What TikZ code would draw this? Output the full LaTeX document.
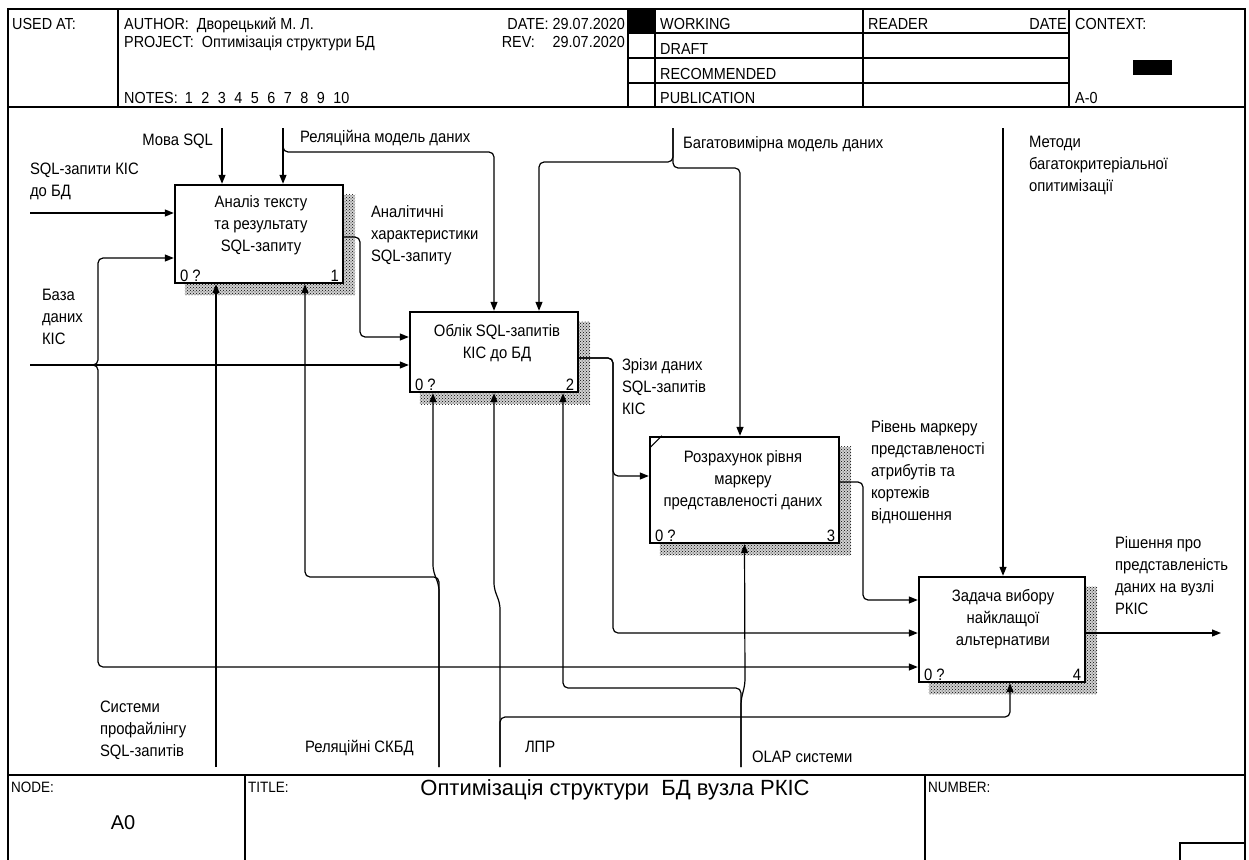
\documentclass[tikz,border=0pt]{standalone}
\usepackage{fontspec}
\setmainfont{Liberation Sans}[FakeStretch=0.9]
\newfontfamily\titlefamily{Liberation Sans}
\usetikzlibrary{arrows.meta,calc,patterns,backgrounds}
\newcommand{\lblfont}{\fontsize{16.5}{22}\selectfont}
\newcommand{\hdrfont}{\fontsize{16}{18}\selectfont}
\newcommand{\ftrfont}{\fontsize{15}{17}\selectfont}
\begin{document}
\begin{tikzpicture}[x=1pt,y=-1pt,
  frame/.style={line width=1.3pt},
  procbox/.style={draw,line width=2.4pt,fill=white,inner sep=0pt},
  boxshadow/.style={pattern=crosshatch dots,pattern color=black},
  arr/.style={line width=1.2pt,rounded corners=5pt,-{Triangle[length=9pt,width=7pt]}},
  lbl/.style={font=\lblfont,align=left,inner sep=0pt,outer sep=0pt,anchor=north west},
  boxtext/.style={font=\lblfont,align=center,inner sep=0pt},
  tag/.style={font=\lblfont,inner sep=0pt},
  hdr/.style={font=\hdrfont,inner sep=0pt,anchor=base west},
  ftr/.style={font=\ftrfont,inner sep=0pt,anchor=base west},
]
\useasboundingbox (0,0) rectangle (1249,859);

% ---------- frame, header and footer ----------
\draw[frame] (8,9) rectangle (1245,875);
\draw[frame] (8,107) -- (1245,107);
\foreach \xx in {118,628,655,863,1069} \draw[frame] (\xx,9) -- (\xx,107);
\foreach \yy in {33,58,83} \draw[frame] (628,\yy) -- (1069,\yy);
\fill (628,9) rectangle (655,33);
\fill (1133,60) rectangle (1172,75);

\node[hdr] (usedat) at (12,30) {USED AT:};
\node[hdr] (author) at (124,30) {AUTHOR:\ \ Дворецький М. Л.};
\node[hdr] (project) at (124,48) {PROJECT:\ \ Оптимізація структури БД};
\node[hdr] (notes) at (124,103) {NOTES:\hspace{7pt}1\hspace{8.5pt}2\hspace{8.5pt}3\hspace{8.5pt}4\hspace{8.5pt}5\hspace{8.5pt}6\hspace{8.5pt}7\hspace{8.5pt}8\hspace{8.5pt}9\hspace{8.5pt}10};
\node[hdr,anchor=base east] (date) at (625,30) {DATE: 29.07.2020};
\node[hdr,anchor=base east] (rev) at (625,48) {\makebox[123pt][l]{REV:\hfill 29.07.2020}};
\node[hdr] (working) at (660,30) {WORKING};
\node[hdr] (draft) at (660,55) {DRAFT};
\node[hdr] (recom) at (660,79) {RECOMMENDED};
\node[hdr] (publ) at (660,103) {PUBLICATION};
\node[hdr] (reader) at (868,30) {READER};
\node[hdr,anchor=base east] (rdate) at (1067,30) {DATE};
\node[hdr] (context) at (1075,30) {CONTEXT:};
\node[hdr] (ctxnode) at (1075,103) {A-0};

\draw[frame] (8,775) -- (1245,775);
\draw[frame] (245,775) -- (245,875);
\draw[frame] (925,775) -- (925,875);
\draw[frame] (1180,875) -- (1180,843) -- (1245,843);
\node[ftr] (nodelbl) at (11,792) {NODE:};
\node[ftr] (titlelbl) at (248,792) {TITLE:};
\node[ftr] (numlbl) at (928,792) {NUMBER:};
\node[font=\titlefamily\fontsize{22}{26}\selectfont,inner sep=0pt] (title) at (615,790) {Оптимізація структури\ \ БД вузла РКІС};
\node[font=\titlefamily\fontsize{20}{24}\selectfont,inner sep=0pt] (nodeid) at (123,823) {A0};

% ---------- activity boxes ----------
\node[procbox,minimum width=168pt,minimum height=98pt] (b1) at (259,234) {};
\node[procbox,minimum width=168pt,minimum height=80pt] (b2) at (494,352) {};
\node[procbox,minimum width=189pt,minimum height=106pt] (b3) at (744.5,490) {};
\node[procbox,minimum width=166pt,minimum height=105pt] (b4) at (1002,629.5) {};

\begin{scope}[on background layer]
  \foreach \b in {b1,b2,b3,b4}{
    \fill[black!18] ($(\b.south west)+(11,11)$) rectangle ($(\b.north east)+(11,11)$);
    \fill[boxshadow] ($(\b.south west)+(11,11)$) rectangle ($(\b.north east)+(11,11)$);
  }
\end{scope}

\draw[line width=1.2pt] ($(b3.north west)+(1,12)$) -- ($(b3.north west)+(13,0)$);

\node[boxtext] (t1) at (261,225) {Аналіз тексту\\та результату\\SQL-запиту};
\node[boxtext] (t2) at (497,343) {Облік SQL-запитів\\КІС до БД};
\node[boxtext] (t3) at (743,480) {Розрахунок рівня\\маркеру\\представленості даних};
\node[boxtext] (t4) at (1003,619) {Задача вибору\\найклащої\\альтернативи};

\foreach \b/\n in {b1/1,b2/2,b3/3,b4/4}{
  \node[tag,anchor=base west] (\b q) at ($(\b.south west)+(6,-3)$) {0 ?};
  \node[tag,anchor=base east] (\b n) at ($(\b.south east)+(-5,-3)$) {\n};
}

% ---------- free ends of boundary arrows ----------
\coordinate (mova) at (222,128);
\coordinate (relm) at (283,128);
\coordinate (multi) at (673,128);
\coordinate (meth) at (1003,128);
\coordinate (sqlin) at (30,213);
\coordinate (db) at (30,365);
\coordinate (out) at (1221,633);
\coordinate (prof) at (216,767);
\coordinate (rdb) at (439,767);
\coordinate (lpr) at (500,767);
\coordinate (olap) at (741,767);

% ---------- controls ----------
\draw[arr] (mova) -- (mova |- b1.north);
\draw[arr] (relm) -- (relm |- b1.north);
\draw[arr] (relm) -- (283,152) -| (b2.north);
\draw[arr] (multi) -- (673,162) -| ($(b2.north)+(45,0)$);
\draw[arr] (multi) -- (673,168) -| ($(b3.north)+(-4.5,0)$);
\draw[arr] (meth) -- (meth |- b4.north);

% ---------- inputs ----------
\draw[arr] (sqlin) -- (sqlin -| b1.west);
\draw[arr] (db) -- (db -| b2.west);
\draw[arr] (db) -- (98,365) |- ($(b1.west)+(0,24)$);
\draw[arr] (db) -- (98,365) |- ($(b4.west)+(0,37.5)$);

% ---------- outputs ----------
\draw[arr] ($(b1.east)+(0,3)$) -- (360,237) |- ($(b2.west)+(0,-15)$);
\draw[arr] ($(b2.east)+(0,6)$) -- (613,358) |- ($(b3.west)+(0,-14)$);
\draw[arr] ($(b2.east)+(0,6)$) -- (613,358) |- ($(b4.west)+(0,3.5)$);
\draw[arr] ($(b3.east)+(0,-8)$) -- (863,482) |- ($(b4.west)+(0,-29.5)$);
\draw[arr] ($(b4.east)+(0,3.5)$) -- (out);

% ---------- mechanisms ----------
\draw[arr] (prof) -- (prof |- b1.south);
\draw[arr] (rdb) -- (439,577) -| ($(b1.south)+(46,0)$);
\draw[arr] (rdb) -- (439,586) -- (433,570) -- ($(b2.south)+(-61,0)$);
\draw[arr] (lpr) -- (500,604) -- (494,588) -- (b2.south);
\draw[arr] (lpr) -- (500,717) -| ($(b4.south)+(8,0)$);
\draw[arr] (olap) -- (741,688) -| ($(b2.south)+(69,0)$);
\draw[arr] (olap) -- (741,700) -- (745,684) -- (b3.south);

% ---------- arrow labels ----------
\node[lbl,anchor=north east] (lmova) at (213,130) {\strut Мова SQL};
\node[lbl] (lrelm) at (300,127) {\strut Реляційна модель даних};
\node[lbl] (lmulti) at (683,133) {\strut Багатовимірна модель даних};
\node[lbl] (lmeth) at (1029,132) {\strut Методи\\багатокритеріальної\\опитимізації};
\node[lbl] (lsql) at (30,159) {\strut SQL-запити КІС\\до БД};
\node[lbl] (ldb) at (42,285) {\strut База\\даних\\КІС};
\node[lbl] (lanal) at (371,202) {\strut Аналітичні\\характеристики\\SQL-запиту};
\node[lbl] (lslice) at (622,355) {\strut Зрізи даних\\SQL-запитів\\КІС};
\node[lbl] (llevel) at (871,417) {\strut Рівень маркеру\\представленості\\атрибутів та\\кортежів\\відношення};
\node[lbl] (lout) at (1115,533) {\strut Рішення про\\представленість\\даних на вузлі\\РКІС};
\node[lbl] (lprof) at (100,697) {\strut Системи\\профайлінгу\\SQL-запитів};
\node[lbl] (lrdb) at (305,737) {\strut Реляційні СКБД};
\node[lbl] (llpr) at (525,737) {\strut ЛПР};
\node[lbl] (lolap) at (752,747) {\strut OLAP системи};
\end{tikzpicture}
\end{document}
